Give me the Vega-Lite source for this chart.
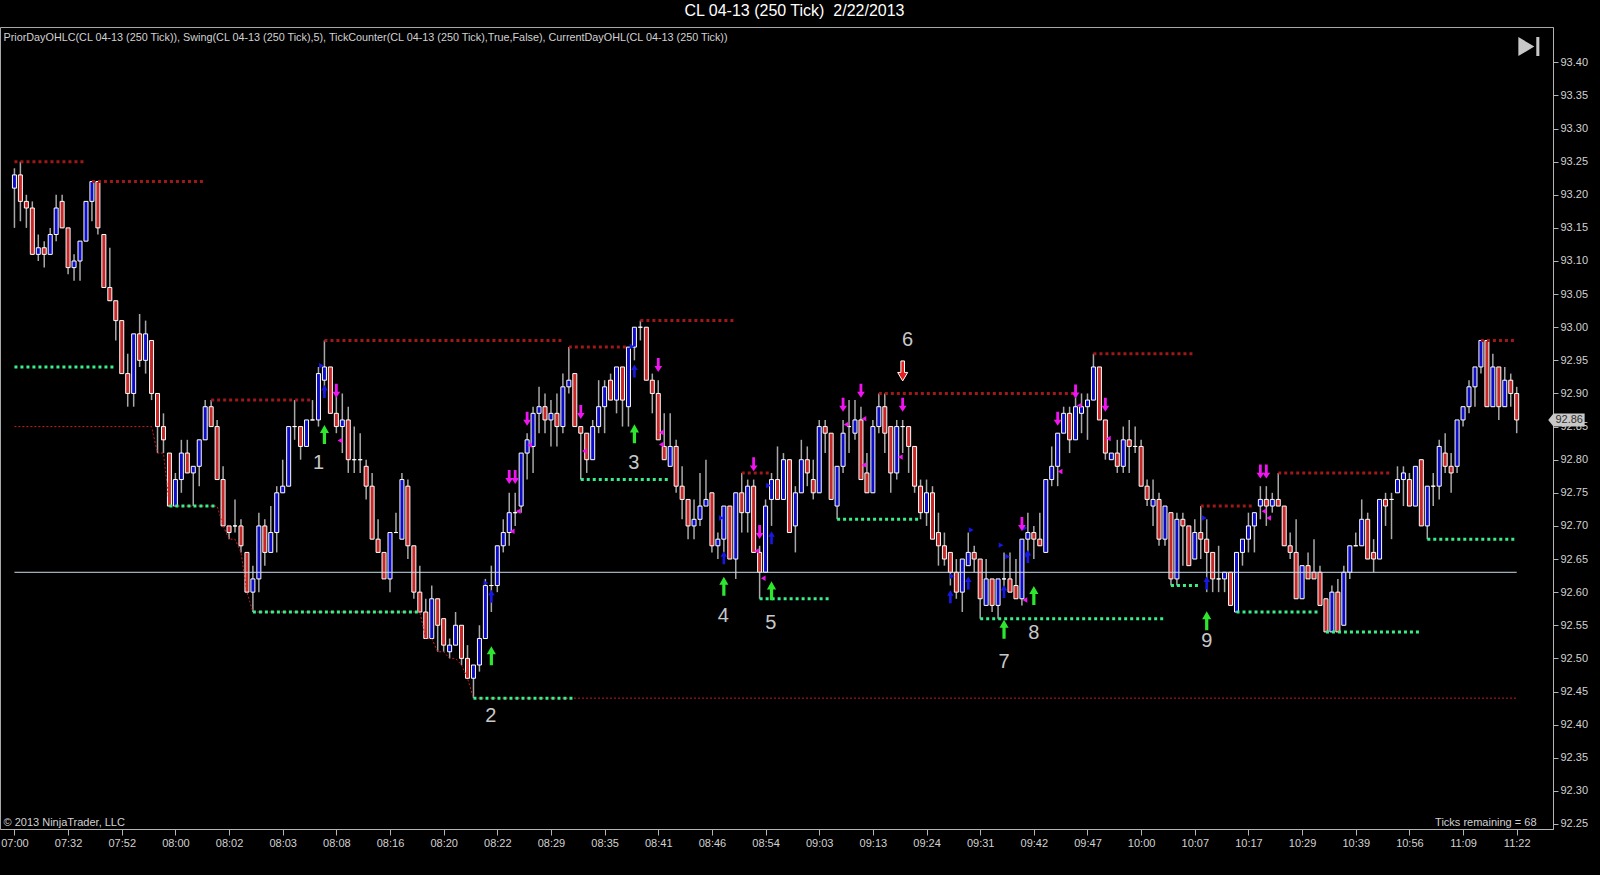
{
"$schema": "https://vega.github.io/schema/vega-lite/v6.json",
"width": 1553, "height": 802,
"autosize": "none",
"padding": {"left": 0, "top": 27, "right": 47, "bottom": 46},
"background": "#000000",
"config": {"view": {"stroke": "#a8a8a8", "strokeWidth": 1}},
"title": {"text": "CL 04-13 (250 Tick) \u00a02/22/2013", "anchor": "middle", "offset": 8, "dx": 18, "fontSize": 16, "font": "Liberation Sans", "fontWeight": "normal", "color": "#ffffff"},
"datasets": {
"bars": [
{"i":0,"o":93.21,"h":93.24,"l":93.15,"c":93.23},
{"i":1,"o":93.23,"h":93.25,"l":93.16,"c":93.19},
{"i":2,"o":93.19,"h":93.20,"l":93.15,"c":93.18},
{"i":3,"o":93.18,"h":93.19,"l":93.11,"c":93.11},
{"i":4,"o":93.11,"h":93.14,"l":93.10,"c":93.12},
{"i":5,"o":93.12,"h":93.13,"l":93.09,"c":93.11},
{"i":6,"o":93.11,"h":93.15,"l":93.11,"c":93.14},
{"i":7,"o":93.14,"h":93.20,"l":93.13,"c":93.18},
{"i":8,"o":93.19,"h":93.20,"l":93.15,"c":93.15},
{"i":9,"o":93.15,"h":93.15,"l":93.08,"c":93.09},
{"i":10,"o":93.09,"h":93.11,"l":93.07,"c":93.10},
{"i":11,"o":93.10,"h":93.13,"l":93.07,"c":93.13},
{"i":12,"o":93.13,"h":93.19,"l":93.13,"c":93.19},
{"i":13,"o":93.19,"h":93.22,"l":93.16,"c":93.22},
{"i":14,"o":93.22,"h":93.22,"l":93.14,"c":93.15},
{"i":15,"o":93.14,"h":93.14,"l":93.06,"c":93.06},
{"i":16,"o":93.06,"h":93.12,"l":93.04,"c":93.04},
{"i":17,"o":93.04,"h":93.04,"l":92.98,"c":93.01},
{"i":18,"o":93.01,"h":93.01,"l":92.93,"c":92.93},
{"i":19,"o":92.93,"h":92.96,"l":92.88,"c":92.90},
{"i":20,"o":92.90,"h":92.99,"l":92.88,"c":92.99},
{"i":21,"o":92.99,"h":93.02,"l":92.94,"c":92.95},
{"i":22,"o":92.95,"h":93.01,"l":92.93,"c":92.99},
{"i":23,"o":92.98,"h":92.98,"l":92.89,"c":92.90},
{"i":24,"o":92.90,"h":92.90,"l":92.81,"c":92.85},
{"i":25,"o":92.85,"h":92.87,"l":92.81,"c":92.83},
{"i":26,"o":92.81,"h":92.81,"l":92.73,"c":92.73},
{"i":27,"o":92.73,"h":92.78,"l":92.73,"c":92.77},
{"i":28,"o":92.77,"h":92.83,"l":92.75,"c":92.81},
{"i":29,"o":92.81,"h":92.83,"l":92.78,"c":92.78},
{"i":30,"o":92.78,"h":92.79,"l":92.73,"c":92.79},
{"i":31,"o":92.79,"h":92.83,"l":92.76,"c":92.83},
{"i":32,"o":92.83,"h":92.89,"l":92.83,"c":92.88},
{"i":33,"o":92.88,"h":92.89,"l":92.85,"c":92.85},
{"i":34,"o":92.85,"h":92.86,"l":92.77,"c":92.77},
{"i":35,"o":92.77,"h":92.79,"l":92.70,"c":92.70},
{"i":36,"o":92.70,"h":92.70,"l":92.68,"c":92.69},
{"i":37,"o":92.70,"h":92.74,"l":92.69,"c":92.70},
{"i":38,"o":92.70,"h":92.71,"l":92.66,"c":92.67},
{"i":39,"o":92.66,"h":92.66,"l":92.60,"c":92.60},
{"i":40,"o":92.60,"h":92.64,"l":92.57,"c":92.62},
{"i":41,"o":92.62,"h":92.72,"l":92.60,"c":92.70},
{"i":42,"o":92.70,"h":92.71,"l":92.64,"c":92.66},
{"i":43,"o":92.66,"h":92.73,"l":92.66,"c":92.69},
{"i":44,"o":92.69,"h":92.76,"l":92.66,"c":92.75},
{"i":45,"o":92.75,"h":92.80,"l":92.75,"c":92.76},
{"i":46,"o":92.76,"h":92.85,"l":92.76,"c":92.85},
{"i":47,"o":92.85,"h":92.89,"l":92.83,"c":92.85},
{"i":48,"o":92.85,"h":92.85,"l":92.80,"c":92.82},
{"i":49,"o":92.82,"h":92.86,"l":92.82,"c":92.86},
{"i":50,"o":92.86,"h":92.89,"l":92.86,"c":92.86},
{"i":51,"o":92.86,"h":92.94,"l":92.85,"c":92.93},
{"i":52,"o":92.92,"h":92.98,"l":92.90,"c":92.94},
{"i":53,"o":92.94,"h":92.94,"l":92.87,"c":92.87},
{"i":54,"o":92.87,"h":92.90,"l":92.84,"c":92.85},
{"i":55,"o":92.85,"h":92.90,"l":92.81,"c":92.86},
{"i":56,"o":92.86,"h":92.88,"l":92.78,"c":92.80},
{"i":57,"o":92.80,"h":92.85,"l":92.78,"c":92.80},
{"i":58,"o":92.80,"h":92.84,"l":92.78,"c":92.80},
{"i":59,"o":92.79,"h":92.80,"l":92.74,"c":92.76},
{"i":60,"o":92.76,"h":92.78,"l":92.68,"c":92.68},
{"i":61,"o":92.68,"h":92.71,"l":92.66,"c":92.66},
{"i":62,"o":92.66,"h":92.66,"l":92.62,"c":92.62},
{"i":63,"o":92.62,"h":92.69,"l":92.60,"c":92.69},
{"i":64,"o":92.69,"h":92.72,"l":92.69,"c":92.69},
{"i":65,"o":92.68,"h":92.78,"l":92.68,"c":92.77},
{"i":66,"o":92.76,"h":92.77,"l":92.65,"c":92.67},
{"i":67,"o":92.67,"h":92.67,"l":92.59,"c":92.60},
{"i":68,"o":92.60,"h":92.64,"l":92.57,"c":92.57},
{"i":69,"o":92.57,"h":92.59,"l":92.53,"c":92.53},
{"i":70,"o":92.53,"h":92.61,"l":92.53,"c":92.59},
{"i":71,"o":92.59,"h":92.59,"l":92.51,"c":92.55},
{"i":72,"o":92.56,"h":92.56,"l":92.51,"c":92.52},
{"i":73,"o":92.51,"h":92.53,"l":92.50,"c":92.52},
{"i":74,"o":92.52,"h":92.57,"l":92.52,"c":92.55},
{"i":75,"o":92.55,"h":92.55,"l":92.49,"c":92.50},
{"i":76,"o":92.50,"h":92.52,"l":92.47,"c":92.47},
{"i":77,"o":92.47,"h":92.49,"l":92.44,"c":92.49},
{"i":78,"o":92.49,"h":92.55,"l":92.48,"c":92.53},
{"i":79,"o":92.53,"h":92.62,"l":92.53,"c":92.61},
{"i":80,"o":92.61,"h":92.64,"l":92.57,"c":92.61},
{"i":81,"o":92.61,"h":92.67,"l":92.60,"c":92.67},
{"i":82,"o":92.67,"h":92.71,"l":92.66,"c":92.69},
{"i":83,"o":92.69,"h":92.75,"l":92.67,"c":92.72},
{"i":84,"o":92.72,"h":92.75,"l":92.70,"c":92.72},
{"i":85,"o":92.73,"h":92.81,"l":92.72,"c":92.81},
{"i":86,"o":92.81,"h":92.84,"l":92.77,"c":92.83},
{"i":87,"o":92.82,"h":92.88,"l":92.78,"c":92.87},
{"i":88,"o":92.87,"h":92.91,"l":92.84,"c":92.88},
{"i":89,"o":92.88,"h":92.90,"l":92.84,"c":92.86},
{"i":90,"o":92.86,"h":92.89,"l":92.82,"c":92.87},
{"i":91,"o":92.87,"h":92.90,"l":92.82,"c":92.85},
{"i":92,"o":92.85,"h":92.93,"l":92.84,"c":92.91},
{"i":93,"o":92.91,"h":92.97,"l":92.90,"c":92.92},
{"i":94,"o":92.93,"h":92.93,"l":92.85,"c":92.85},
{"i":95,"o":92.85,"h":92.85,"l":92.77,"c":92.84},
{"i":96,"o":92.84,"h":92.84,"l":92.78,"c":92.80},
{"i":97,"o":92.80,"h":92.86,"l":92.80,"c":92.85},
{"i":98,"o":92.85,"h":92.92,"l":92.84,"c":92.88},
{"i":99,"o":92.88,"h":92.92,"l":92.84,"c":92.91},
{"i":100,"o":92.92,"h":92.93,"l":92.89,"c":92.89},
{"i":101,"o":92.89,"h":92.94,"l":92.87,"c":92.94},
{"i":102,"o":92.94,"h":92.94,"l":92.85,"c":92.89},
{"i":103,"o":92.88,"h":92.97,"l":92.85,"c":92.97},
{"i":104,"o":92.97,"h":93.00,"l":92.95,"c":93.00},
{"i":105,"o":93.00,"h":93.01,"l":92.98,"c":93.00},
{"i":106,"o":93.00,"h":93.00,"l":92.92,"c":92.92},
{"i":107,"o":92.92,"h":92.93,"l":92.87,"c":92.90},
{"i":108,"o":92.90,"h":92.92,"l":92.83,"c":92.83},
{"i":109,"o":92.82,"h":92.87,"l":92.80,"c":92.80},
{"i":110,"o":92.79,"h":92.87,"l":92.79,"c":92.82},
{"i":111,"o":92.82,"h":92.83,"l":92.75,"c":92.76},
{"i":112,"o":92.76,"h":92.79,"l":92.71,"c":92.74},
{"i":113,"o":92.74,"h":92.74,"l":92.68,"c":92.70},
{"i":114,"o":92.70,"h":92.74,"l":92.68,"c":92.71},
{"i":115,"o":92.71,"h":92.78,"l":92.70,"c":92.73},
{"i":116,"o":92.73,"h":92.80,"l":92.73,"c":92.74},
{"i":117,"o":92.75,"h":92.75,"l":92.66,"c":92.67},
{"i":118,"o":92.67,"h":92.69,"l":92.65,"c":92.68},
{"i":119,"o":92.68,"h":92.73,"l":92.66,"c":92.73},
{"i":120,"o":92.73,"h":92.73,"l":92.65,"c":92.65},
{"i":121,"o":92.65,"h":92.75,"l":92.62,"c":92.75},
{"i":122,"o":92.75,"h":92.78,"l":92.69,"c":92.72},
{"i":123,"o":92.72,"h":92.77,"l":92.69,"c":92.76},
{"i":124,"o":92.76,"h":92.77,"l":92.66,"c":92.66},
{"i":125,"o":92.66,"h":92.67,"l":92.59,"c":92.63},
{"i":126,"o":92.63,"h":92.74,"l":92.63,"c":92.73},
{"i":127,"o":92.74,"h":92.78,"l":92.70,"c":92.77},
{"i":128,"o":92.77,"h":92.82,"l":92.74,"c":92.74},
{"i":129,"o":92.74,"h":92.81,"l":92.74,"c":92.80},
{"i":130,"o":92.80,"h":92.80,"l":92.69,"c":92.69},
{"i":131,"o":92.70,"h":92.76,"l":92.66,"c":92.75},
{"i":132,"o":92.75,"h":92.83,"l":92.75,"c":92.80},
{"i":133,"o":92.80,"h":92.82,"l":92.76,"c":92.78},
{"i":134,"o":92.77,"h":92.80,"l":92.74,"c":92.75},
{"i":135,"o":92.75,"h":92.86,"l":92.75,"c":92.85},
{"i":136,"o":92.85,"h":92.86,"l":92.81,"c":92.84},
{"i":137,"o":92.84,"h":92.84,"l":92.74,"c":92.74},
{"i":138,"o":92.73,"h":92.79,"l":92.71,"c":92.79},
{"i":139,"o":92.79,"h":92.86,"l":92.78,"c":92.84},
{"i":140,"o":92.85,"h":92.89,"l":92.81,"c":92.85},
{"i":141,"o":92.84,"h":92.89,"l":92.83,"c":92.86},
{"i":142,"o":92.86,"h":92.88,"l":92.77,"c":92.77},
{"i":143,"o":92.78,"h":92.81,"l":92.75,"c":92.75},
{"i":144,"o":92.75,"h":92.86,"l":92.75,"c":92.85},
{"i":145,"o":92.85,"h":92.90,"l":92.84,"c":92.88},
{"i":146,"o":92.88,"h":92.90,"l":92.81,"c":92.84},
{"i":147,"o":92.85,"h":92.85,"l":92.75,"c":92.78},
{"i":148,"o":92.78,"h":92.86,"l":92.77,"c":92.85},
{"i":149,"o":92.85,"h":92.86,"l":92.81,"c":92.85},
{"i":150,"o":92.85,"h":92.85,"l":92.78,"c":92.82},
{"i":151,"o":92.82,"h":92.82,"l":92.75,"c":92.76},
{"i":152,"o":92.76,"h":92.77,"l":92.71,"c":92.72},
{"i":153,"o":92.72,"h":92.77,"l":92.70,"c":92.75},
{"i":154,"o":92.75,"h":92.76,"l":92.68,"c":92.68},
{"i":155,"o":92.69,"h":92.72,"l":92.64,"c":92.67},
{"i":156,"o":92.67,"h":92.69,"l":92.64,"c":92.65},
{"i":157,"o":92.66,"h":92.66,"l":92.61,"c":92.63},
{"i":158,"o":92.63,"h":92.65,"l":92.59,"c":92.60},
{"i":159,"o":92.60,"h":92.65,"l":92.57,"c":92.65},
{"i":160,"o":92.64,"h":92.69,"l":92.64,"c":92.66},
{"i":161,"o":92.66,"h":92.67,"l":92.63,"c":92.65},
{"i":162,"o":92.65,"h":92.65,"l":92.56,"c":92.59},
{"i":163,"o":92.58,"h":92.65,"l":92.58,"c":92.62},
{"i":164,"o":92.62,"h":92.62,"l":92.57,"c":92.58},
{"i":165,"o":92.58,"h":92.62,"l":92.56,"c":92.62},
{"i":166,"o":92.62,"h":92.66,"l":92.60,"c":92.62},
{"i":167,"o":92.62,"h":92.66,"l":92.60,"c":92.60},
{"i":168,"o":92.61,"h":92.65,"l":92.59,"c":92.59},
{"i":169,"o":92.59,"h":92.68,"l":92.58,"c":92.68},
{"i":170,"o":92.68,"h":92.72,"l":92.65,"c":92.69},
{"i":171,"o":92.69,"h":92.70,"l":92.65,"c":92.68},
{"i":172,"o":92.68,"h":92.72,"l":92.67,"c":92.67},
{"i":173,"o":92.66,"h":92.77,"l":92.66,"c":92.77},
{"i":174,"o":92.77,"h":92.82,"l":92.76,"c":92.79},
{"i":175,"o":92.79,"h":92.84,"l":92.76,"c":92.84},
{"i":176,"o":92.84,"h":92.88,"l":92.84,"c":92.87},
{"i":177,"o":92.87,"h":92.88,"l":92.81,"c":92.83},
{"i":178,"o":92.83,"h":92.91,"l":92.83,"c":92.88},
{"i":179,"o":92.87,"h":92.90,"l":92.84,"c":92.88},
{"i":180,"o":92.88,"h":92.90,"l":92.83,"c":92.89},
{"i":181,"o":92.89,"h":92.96,"l":92.89,"c":92.94},
{"i":182,"o":92.94,"h":92.94,"l":92.86,"c":92.86},
{"i":183,"o":92.86,"h":92.86,"l":92.80,"c":92.81},
{"i":184,"o":92.80,"h":92.81,"l":92.80,"c":92.81},
{"i":185,"o":92.81,"h":92.83,"l":92.78,"c":92.79},
{"i":186,"o":92.79,"h":92.85,"l":92.78,"c":92.83},
{"i":187,"o":92.83,"h":92.86,"l":92.78,"c":92.82},
{"i":188,"o":92.82,"h":92.85,"l":92.81,"c":92.82},
{"i":189,"o":92.82,"h":92.83,"l":92.76,"c":92.76},
{"i":190,"o":92.76,"h":92.77,"l":92.73,"c":92.74},
{"i":191,"o":92.73,"h":92.77,"l":92.70,"c":92.74},
{"i":192,"o":92.74,"h":92.75,"l":92.67,"c":92.68},
{"i":193,"o":92.68,"h":92.73,"l":92.67,"c":92.73},
{"i":194,"o":92.72,"h":92.72,"l":92.61,"c":92.62},
{"i":195,"o":92.62,"h":92.72,"l":92.61,"c":92.71},
{"i":196,"o":92.71,"h":92.72,"l":92.64,"c":92.70},
{"i":197,"o":92.70,"h":92.70,"l":92.64,"c":92.64},
{"i":198,"o":92.65,"h":92.71,"l":92.65,"c":92.69},
{"i":199,"o":92.69,"h":92.73,"l":92.65,"c":92.68},
{"i":200,"o":92.68,"h":92.71,"l":92.60,"c":92.66},
{"i":201,"o":92.66,"h":92.66,"l":92.60,"c":92.62},
{"i":202,"o":92.62,"h":92.67,"l":92.60,"c":92.62},
{"i":203,"o":92.62,"h":92.63,"l":92.60,"c":92.63},
{"i":204,"o":92.63,"h":92.63,"l":92.58,"c":92.58},
{"i":205,"o":92.57,"h":92.66,"l":92.57,"c":92.66},
{"i":206,"o":92.66,"h":92.68,"l":92.64,"c":92.68},
{"i":207,"o":92.68,"h":92.72,"l":92.66,"c":92.70},
{"i":208,"o":92.70,"h":92.72,"l":92.66,"c":92.72},
{"i":209,"o":92.73,"h":92.76,"l":92.71,"c":92.74},
{"i":210,"o":92.74,"h":92.76,"l":92.70,"c":92.73},
{"i":211,"o":92.73,"h":92.75,"l":92.72,"c":92.74},
{"i":212,"o":92.74,"h":92.78,"l":92.73,"c":92.73},
{"i":213,"o":92.73,"h":92.73,"l":92.67,"c":92.67},
{"i":214,"o":92.67,"h":92.69,"l":92.65,"c":92.66},
{"i":215,"o":92.66,"h":92.71,"l":92.59,"c":92.59},
{"i":216,"o":92.59,"h":92.64,"l":92.59,"c":92.64},
{"i":217,"o":92.64,"h":92.66,"l":92.62,"c":92.62},
{"i":218,"o":92.63,"h":92.68,"l":92.62,"c":92.62},
{"i":219,"o":92.63,"h":92.64,"l":92.58,"c":92.58},
{"i":220,"o":92.59,"h":92.59,"l":92.54,"c":92.54},
{"i":221,"o":92.54,"h":92.61,"l":92.54,"c":92.60},
{"i":222,"o":92.60,"h":92.62,"l":92.54,"c":92.54},
{"i":223,"o":92.55,"h":92.64,"l":92.55,"c":92.63},
{"i":224,"o":92.63,"h":92.67,"l":92.62,"c":92.67},
{"i":225,"o":92.67,"h":92.69,"l":92.67,"c":92.67},
{"i":226,"o":92.67,"h":92.74,"l":92.67,"c":92.71},
{"i":227,"o":92.71,"h":92.72,"l":92.65,"c":92.65},
{"i":228,"o":92.66,"h":92.68,"l":92.63,"c":92.65},
{"i":229,"o":92.65,"h":92.74,"l":92.65,"c":92.74},
{"i":230,"o":92.74,"h":92.75,"l":92.70,"c":92.73},
{"i":231,"o":92.74,"h":92.75,"l":92.68,"c":92.74},
{"i":232,"o":92.75,"h":92.79,"l":92.75,"c":92.77},
{"i":233,"o":92.77,"h":92.79,"l":92.73,"c":92.78},
{"i":234,"o":92.77,"h":92.78,"l":92.73,"c":92.73},
{"i":235,"o":92.73,"h":92.79,"l":92.73,"c":92.79},
{"i":236,"o":92.80,"h":92.80,"l":92.70,"c":92.70},
{"i":237,"o":92.70,"h":92.76,"l":92.68,"c":92.76},
{"i":238,"o":92.76,"h":92.78,"l":92.73,"c":92.76},
{"i":239,"o":92.76,"h":92.83,"l":92.74,"c":92.82},
{"i":240,"o":92.81,"h":92.84,"l":92.78,"c":92.79},
{"i":241,"o":92.79,"h":92.81,"l":92.75,"c":92.78},
{"i":242,"o":92.79,"h":92.86,"l":92.78,"c":92.86},
{"i":243,"o":92.86,"h":92.88,"l":92.85,"c":92.88},
{"i":244,"o":92.88,"h":92.92,"l":92.87,"c":92.91},
{"i":245,"o":92.91,"h":92.94,"l":92.88,"c":92.94},
{"i":246,"o":92.94,"h":92.98,"l":92.93,"c":92.98},
{"i":247,"o":92.98,"h":92.98,"l":92.88,"c":92.88},
{"i":248,"o":92.88,"h":92.96,"l":92.88,"c":92.94},
{"i":249,"o":92.94,"h":92.94,"l":92.86,"c":92.88},
{"i":250,"o":92.88,"h":92.94,"l":92.88,"c":92.92},
{"i":251,"o":92.92,"h":92.93,"l":92.88,"c":92.90},
{"i":252,"o":92.90,"h":92.91,"l":92.84,"c":92.86}
],
"hi": [
{"s":0,"e":12,"p":93.25},{"s":13,"e":32,"p":93.22},{"s":33,"e":50,"p":92.89},{"s":52,"e":92,"p":92.98},
{"s":93,"e":103,"p":92.97},{"s":105,"e":121,"p":93.01},{"s":122,"e":127,"p":92.78},{"s":145,"e":178,"p":92.90},
{"s":181,"e":198,"p":92.96},{"s":199,"e":208,"p":92.73},{"s":212,"e":231,"p":92.78},{"s":246,"e":252,"p":92.98}
],
"lo": [
{"s":0,"e":17,"p":92.94},{"s":26,"e":34,"p":92.73},{"s":40,"e":68,"p":92.57},{"s":77,"e":94,"p":92.44},
{"s":95,"e":110,"p":92.77},{"s":125,"e":137,"p":92.59},{"s":138,"e":152,"p":92.71},{"s":162,"e":193,"p":92.56},
{"s":194,"e":199,"p":92.61},{"s":205,"e":219,"p":92.57},{"s":220,"e":236,"p":92.54},{"s":237,"e":252,"p":92.68}
],
"ref": [{"s":0,"e":252,"p":92.63}],
"dayLow": [
{"i":0,"p":92.85},{"i":23,"p":92.85},{"i":24,"p":92.81},{"i":25,"p":92.81},{"i":26,"p":92.73},{"i":34,"p":92.73},
{"i":35,"p":92.70},{"i":36,"p":92.68},{"i":37,"p":92.68},{"i":38,"p":92.66},{"i":39,"p":92.60},{"i":40,"p":92.57},
{"i":68,"p":92.57},{"i":69,"p":92.53},{"i":70,"p":92.53},{"i":71,"p":92.51},{"i":72,"p":92.51},{"i":73,"p":92.50},
{"i":74,"p":92.50},{"i":75,"p":92.49},{"i":76,"p":92.47},{"i":77,"p":92.44},{"i":252,"p":92.44}
],
"marks": [
{"i":52,"p":92.838,"k":"green"},{"i":80,"p":92.504,"k":"green"},{"i":104,"p":92.839,"k":"green"},{"i":119,"p":92.609,"k":"green"},
{"i":127,"p":92.602,"k":"green"},{"i":166,"p":92.544,"k":"green"},{"i":171,"p":92.595,"k":"green"},{"i":200,"p":92.557,"k":"green"},
{"i":54,"p":92.904,"k":"mag"},{"i":83,"p":92.774,"k":"mag"},{"i":84,"p":92.774,"k":"mag"},{"i":86,"p":92.862,"k":"mag"},
{"i":95,"p":92.872,"k":"mag"},{"i":108,"p":92.943,"k":"mag"},{"i":124,"p":92.793,"k":"mag"},{"i":125,"p":92.691,"k":"mag"},
{"i":139,"p":92.883,"k":"mag"},{"i":142,"p":92.904,"k":"mag"},{"i":149,"p":92.883,"k":"mag"},{"i":169,"p":92.703,"k":"mag"},
{"i":175,"p":92.862,"k":"mag"},{"i":178,"p":92.903,"k":"mag"},{"i":183,"p":92.883,"k":"mag"},{"i":209,"p":92.782,"k":"mag"},
{"i":210,"p":92.782,"k":"mag"},
{"i":149,"p":92.934,"k":"red"},
{"i":52,"p":92.903,"k":"blue"},{"i":80,"p":92.594,"k":"blue"},{"i":104,"p":92.934,"k":"blue"},{"i":119,"p":92.652,"k":"blue"},
{"i":127,"p":92.682,"k":"blue"},{"i":157,"p":92.593,"k":"blue"},{"i":160,"p":92.614,"k":"blue"},{"i":166,"p":92.601,"k":"blue"},
{"i":170,"p":92.654,"k":"blue"},{"i":200,"p":92.614,"k":"blue"},
{"i":51.5,"p":92.942,"k":"btri"},{"i":103.6,"p":92.971,"k":"btri"},{"i":118.6,"p":92.712,"k":"btri"},{"i":79.1,"p":92.614,"k":"btri"},
{"i":126.5,"p":92.761,"k":"btri"},{"i":157.3,"p":92.624,"k":"btri"},{"i":160.5,"p":92.694,"k":"btri"},{"i":165.5,"p":92.671,"k":"btri"},
{"i":166.6,"p":92.654,"k":"btri"},{"i":169.5,"p":92.697,"k":"btri"},{"i":170,"p":92.656,"k":"btri"},{"i":199.6,"p":92.712,"k":"btri"},
{"i":54.6,"p":92.829,"k":"mtri"},{"i":86.4,"p":92.822,"k":"mtri"},{"i":84.5,"p":92.722,"k":"mtri"},{"i":83.5,"p":92.692,"k":"mtri"},
{"i":95.6,"p":92.813,"k":"mtri"},{"i":108.5,"p":92.841,"k":"mtri"},{"i":108.5,"p":92.823,"k":"mtri"},{"i":124.5,"p":92.662,"k":"mtri"},
{"i":125.6,"p":92.621,"k":"mtri"},{"i":139.5,"p":92.853,"k":"mtri"},{"i":142.5,"p":92.862,"k":"mtri"},{"i":142.5,"p":92.792,"k":"mtri"},
{"i":148.6,"p":92.804,"k":"mtri"},{"i":169.5,"p":92.588,"k":"mtri"},{"i":175.4,"p":92.782,"k":"mtri"},{"i":178.6,"p":92.882,"k":"mtri"},
{"i":183.5,"p":92.832,"k":"mtri"},{"i":209.6,"p":92.722,"k":"mtri"},{"i":210.4,"p":92.712,"k":"mtri"}
],
"labels": [
{"i":51,"p":92.795,"t":"1"},{"i":79.9,"p":92.4125,"t":"2"},{"i":103.9,"p":92.795,"t":"3"},{"i":118.9,"p":92.564,"t":"4"},
{"i":126.9,"p":92.553,"t":"5"},{"i":149.8,"p":92.98,"t":"6"},{"i":166,"p":92.495,"t":"7"},{"i":171,"p":92.538,"t":"8"},{"i":200,"p":92.526,"t":"9"}
]
},
"resolve": {"axis": {"x": "independent", "y": "independent"}},
"layer": [
{
"data": {"name": "bars"},
"mark": {"type": "rule", "color": "#a8a8a8", "strokeWidth": 1.5},
"encoding": {
"x": {"field": "i", "type": "quantitative", "scale": {"domain": [-1.58333, 257.25], "nice": false, "zero": false},
 "axis": {"orient": "bottom", "values": [0,9,18,27,36,45,54,63,72,81,90,99,108,117,126,135,144,153,162,171,180,189,198,207,216,225,234,243,252],
 "labelExpr": "['07:00','07:32','07:52','08:00','08:02','08:03','08:08','08:16','08:20','08:22','08:29','08:35','08:41','08:46','08:54','09:03','09:13','09:24','09:31','09:42','09:47','10:00','10:07','10:17','10:29','10:39','10:56','11:09','11:22'][round(datum.value/9)]",
 "grid": false, "domainColor": "#b4b4b4", "tickColor": "#b4b4b4", "tickSize": 6, "labelColor": "#d2d2d2", "labelFont": "Liberation Sans", "labelFontSize": 11, "labelPadding": 2, "labelFlush": false, "labelOverlap": false,
 "title": "\u00a9 2013 NinjaTrader, LLC", "titleColor": "#d2d2d2", "titleFont": "Liberation Sans", "titleFontSize": 11, "titleFontWeight": "normal", "titleX": 3, "titleY": -7, "titleAlign": "left", "titleBaseline": "middle", "titleAngle": 0}},
"y": {"field": "l", "type": "quantitative", "scale": {"domain": [92.2424, 93.4533], "nice": false, "zero": false},
 "axis": {"orient": "right", "values": [92.25,92.3,92.35,92.4,92.45,92.5,92.55,92.6,92.65,92.7,92.75,92.8,92.85,92.9,92.95,93.0,93.05,93.1,93.15,93.2,93.25,93.3,93.35,93.4],
 "format": ".2f", "grid": false, "domainColor": "#b4b4b4", "tickColor": "#b4b4b4", "tickSize": 5, "labelColor": "#d2d2d2", "labelFont": "Liberation Sans", "labelFontSize": 11, "labelPadding": 2, "labelFlush": false, "labelOverlap": false,
 "title": "Ticks remaining = 68", "titleColor": "#d2d2d2", "titleFont": "Liberation Sans", "titleFontSize": 11, "titleFontWeight": "normal", "titleAngle": 0, "titleX": -17, "titleY": 795, "titleAlign": "right", "titleBaseline": "middle"}},
"y2": {"field": "h"}
}
},
{
"data": {"name": "bars"},
"mark": {"type": "bar", "width": 4, "stroke": "#ffffff", "strokeWidth": 1},
"encoding": {
"x": {"field": "i", "type": "quantitative", "scale": {"domain": [-1.58333, 257.25], "nice": false, "zero": false},
 "axis": {"orient": "top", "labels": false, "ticks": false, "domain": false, "grid": false,
 "title": "PriorDayOHLC(CL 04-13 (250 Tick)), Swing(CL 04-13 (250 Tick),5), TickCounter(CL 04-13 (250 Tick),True,False), CurrentDayOHL(CL 04-13 (250 Tick))",
 "titleColor": "#d2d2d2", "titleFont": "Liberation Sans", "titleFontSize": 10.8, "titleFontWeight": "normal", "titleX": 3, "titleY": 10, "titleAlign": "left", "titleBaseline": "middle", "titleAngle": 0}},
"y": {"field": "o", "type": "quantitative", "scale": {"domain": [92.2424, 93.4533], "nice": false, "zero": false}, "axis": null},
"y2": {"field": "c"},
"color": {"condition": {"test": "datum.c >= datum.o", "value": "#0c0cc8"}, "value": "#c82828"}
}
},
{
"data": {"name": "ref"},
"mark": {"type": "rule", "color": "#c8dcec", "strokeWidth": 1},
"encoding": {
"x": {"field": "s", "type": "quantitative", "axis": null}, "x2": {"field": "e"},
"y": {"field": "p", "type": "quantitative", "axis": null}
}
},
{
"data": {"name": "dayLow"},
"mark": {"type": "line", "color": "#c81e1e", "strokeWidth": 1, "strokeDash": [2, 2]},
"encoding": {
"x": {"field": "i", "type": "quantitative", "axis": null},
"y": {"field": "p", "type": "quantitative", "axis": null}
}
},
{
"data": {"name": "hi"},
"mark": {"type": "rule", "color": "#a01818", "strokeWidth": 3, "strokeDash": [3, 3]},
"encoding": {
"x": {"field": "s", "type": "quantitative", "axis": null}, "x2": {"field": "e"},
"y": {"field": "p", "type": "quantitative", "axis": null}
}
},
{
"data": {"name": "lo"},
"mark": {"type": "rule", "color": "#38f08a", "strokeWidth": 3, "strokeDash": [3, 3]},
"encoding": {
"x": {"field": "s", "type": "quantitative", "axis": null}, "x2": {"field": "e"},
"y": {"field": "p", "type": "quantitative", "axis": null}
}
},
{
"data": {"name": "marks"},
"transform": [{"filter": "datum.k == 'btri'"}],
"mark": {"type": "point", "shape": "triangle-right", "size": 30, "filled": true, "color": "#1818e6", "opacity": 1},
"encoding": {"x": {"field": "i", "type": "quantitative", "axis": null}, "y": {"field": "p", "type": "quantitative", "axis": null}}
},
{
"data": {"name": "marks"},
"transform": [{"filter": "datum.k == 'mtri'"}],
"mark": {"type": "point", "shape": "triangle-left", "size": 30, "filled": true, "color": "#f014f0", "opacity": 1},
"encoding": {"x": {"field": "i", "type": "quantitative", "axis": null}, "y": {"field": "p", "type": "quantitative", "axis": null}}
},
{
"data": {"name": "marks"},
"transform": [{"filter": "datum.k == 'blue'"}],
"mark": {"type": "point", "shape": "M0,-1 L0.5,-0.15 L0.2,-0.15 L0.2,1 L-0.2,1 L-0.2,-0.15 L-0.5,-0.15 Z", "size": 169, "filled": true, "color": "#1818e6", "opacity": 1},
"encoding": {"x": {"field": "i", "type": "quantitative", "axis": null}, "y": {"field": "p", "type": "quantitative", "axis": null}}
},
{
"data": {"name": "marks"},
"transform": [{"filter": "datum.k == 'mag'"}],
"mark": {"type": "point", "shape": "M0,1 L0.55,0.15 L0.2,0.15 L0.2,-1 L-0.2,-1 L-0.2,0.15 L-0.55,0.15 Z", "size": 196, "filled": true, "color": "#f014f0", "opacity": 1},
"encoding": {"x": {"field": "i", "type": "quantitative", "axis": null}, "y": {"field": "p", "type": "quantitative", "axis": null}}
},
{
"data": {"name": "marks"},
"transform": [{"filter": "datum.k == 'green'"}],
"mark": {"type": "point", "shape": "M0,-1 L0.48,-0.15 L0.17,-0.15 L0.17,1 L-0.17,1 L-0.17,-0.15 L-0.48,-0.15 Z", "size": 361, "filled": true, "color": "#2ee62e", "opacity": 1},
"encoding": {"x": {"field": "i", "type": "quantitative", "axis": null}, "y": {"field": "p", "type": "quantitative", "axis": null}}
},
{
"data": {"name": "marks"},
"transform": [{"filter": "datum.k == 'red'"}],
"mark": {"type": "point", "shape": "M0,1 L0.5,0.15 L0.18,0.15 L0.18,-1 L-0.18,-1 L-0.18,0.15 L-0.5,0.15 Z", "size": 400, "filled": true, "color": "#e81e1e", "stroke": "#ffffff", "strokeWidth": 1, "opacity": 1},
"encoding": {"x": {"field": "i", "type": "quantitative", "axis": null}, "y": {"field": "p", "type": "quantitative", "axis": null}}
},
{
"data": {"name": "labels"},
"mark": {"type": "text", "fontSize": 20, "font": "Liberation Sans", "color": "#c8c8c8", "align": "center", "baseline": "middle"},
"encoding": {"x": {"field": "i", "type": "quantitative", "axis": null}, "y": {"field": "p", "type": "quantitative", "axis": null}, "text": {"field": "t"}}
},
{
"data": {"name": "bars"},
"transform": [{"filter": "datum.i == 252"}],
"mark": {"type": "point", "shape": "M-1.45,0 L-1.05,-0.5 L1.35,-0.5 L1.35,0.5 L-1.05,0.5 Z", "size": 676, "filled": true, "color": "#c8c8c8", "opacity": 1},
"encoding": {"x": {"datum": 260.45, "type": "quantitative", "axis": null}, "y": {"field": "c", "type": "quantitative", "axis": null}}
},
{
"data": {"name": "bars"},
"transform": [{"filter": "datum.i == 252"}],
"mark": {"type": "text", "fontSize": 11, "font": "Liberation Sans", "color": "#303030", "align": "center", "baseline": "middle"},
"encoding": {"x": {"datum": 260.8, "type": "quantitative", "axis": null}, "y": {"field": "c", "type": "quantitative", "axis": null}, "text": {"field": "c", "format": ".2f"}}
},
{
"data": {"values": [{}]},
"mark": {"type": "point", "shape": "M-1.05,-1 L0.63,0 L-1.05,1 Z M0.84,-1 L1.16,-1 L1.16,1 L0.84,1 Z", "size": 361, "filled": true, "color": "#c8c8c8", "opacity": 1},
"encoding": {"x": {"datum": 253.95, "type": "quantitative", "axis": null}, "y": {"datum": 93.4238, "type": "quantitative", "axis": null}}
}
]
}
